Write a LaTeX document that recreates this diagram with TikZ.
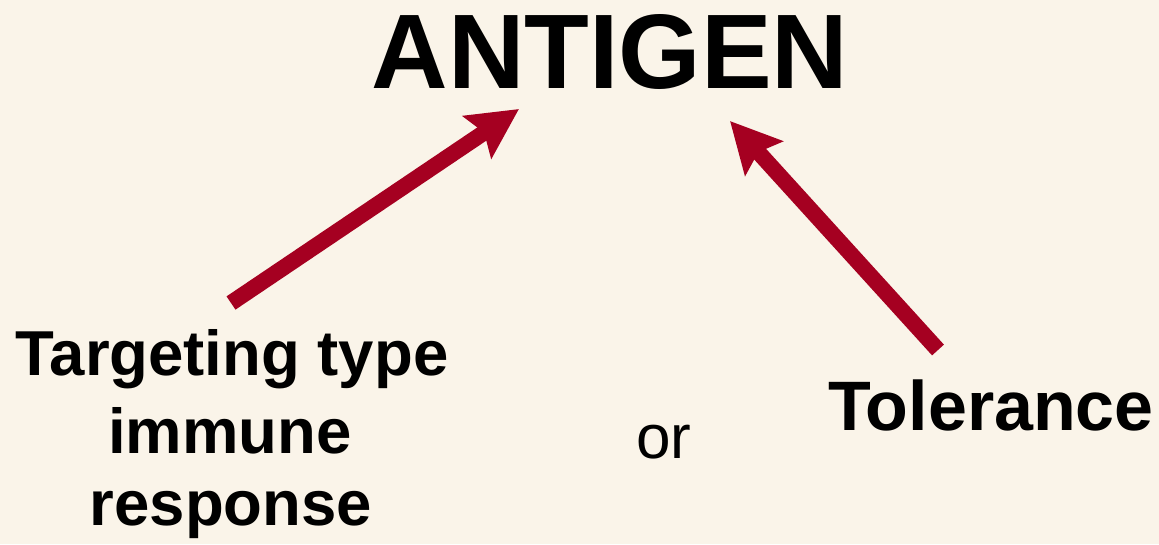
\documentclass[tikz,border=0pt]{standalone}
\usepackage{fontspec}
\setmainfont{Liberation Sans}
\usetikzlibrary{arrows.meta}
\definecolor{bg}{HTML}{FAF4E9}
\definecolor{arrowred}{HTML}{A50021}
\tikzset{
  bigarrow/.style={draw=arrowred, line width=16pt, -{Stealth[length=50pt,width=50pt,inset=8pt]}},
  lbl/.style={anchor=base, inner sep=0pt, font=\bfseries\fontsize{63.5}{75}\selectfont, align=center},
}
\begin{document}
\begin{tikzpicture}[x=1pt,y=-1pt]
\fill[bg] (0,0) rectangle (1159,544);
\useasboundingbox (0,0) rectangle (1159,544);
\node[anchor=base, inner sep=0pt, font=\bfseries\fontsize{106}{120}\selectfont] (antigen) at (610,88) {ANTIGEN};
\node[lbl] (target1) at (232,375) {Targeting type};
\node[lbl] (target2) at (230,453) {immune};
\node[lbl] (target3) at (231,525) {response};
\node[lbl, font=\bfseries\fontsize{70}{80}\selectfont] (tol) at (991,430) {Tolerance};
\node[anchor=base, inner sep=0pt, font=\fontsize{62}{75}\selectfont] (or) at (664,458) {or};
\coordinate (tipL) at (519,109);
\coordinate (tipR) at (730,121);
\coordinate (tailL) at (231,303);
\coordinate (tailR) at (938,350);
\draw[bigarrow] (tailL) -- (tipL);
\draw[bigarrow] (tailR) -- (tipR);
\end{tikzpicture}
\end{document}
